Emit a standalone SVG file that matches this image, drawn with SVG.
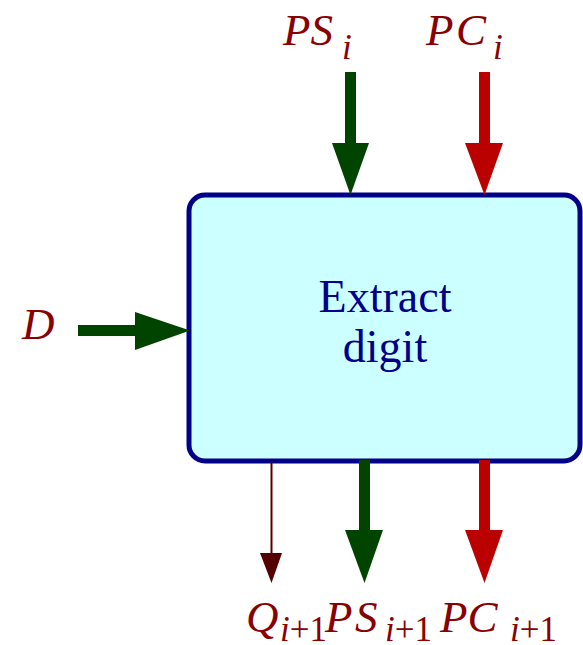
<svg xmlns="http://www.w3.org/2000/svg" width="583" height="645" viewBox="0 0 583 645">
<style>
.lbl{font-family:"Liberation Serif","Times New Roman",serif;font-style:italic;fill:#880000;font-size:45px}
.sub{font-family:"Liberation Serif","Times New Roman",serif;font-style:italic;fill:#880000;font-size:35px}
.up{font-style:normal}
.box{fill:#CCFFFF;stroke:#000088;stroke-width:5}
.title{font-family:"Liberation Serif","Times New Roman",serif;fill:#000088;font-size:46px;text-anchor:middle}
.g{fill:#004400}
.r{fill:#BB0000}
.q{fill:#550000}
</style>
<g id="extract">
<rect class="box" x="189" y="195" width="391" height="266" rx="16" ry="16"/>
<text class="title" x="385" y="312">Extract</text>
<text class="title" x="385" y="362">digit</text>
</g>
<g id="connectors">
<rect class="g" x="345" y="72" width="11" height="74"/>
<polygon class="g" points="332,143 369,143 350.5,195"/>
<rect class="r" x="479" y="72" width="11" height="74"/>
<polygon class="r" points="465,143 503,143 484.5,195"/>
<rect class="g" x="78" y="325" width="60" height="11"/>
<polygon class="g" points="135,312 135,350 190,330.5"/>
<rect class="q" x="270.5" y="462" width="2" height="93"/>
<polygon class="q" points="260,553 282,553 271.5,583"/>
<rect class="g" x="359" y="460" width="11" height="72"/>
<polygon class="g" points="345,530 383,530 364.5,583"/>
<rect class="r" x="479" y="460" width="11" height="72"/>
<polygon class="r" points="465,530 503,530 484.5,583"/>
</g>
<g id="label-PSi"><text class="lbl" x="283" y="45">PS</text><text class="sub" x="342" y="59">i</text></g>
<g id="label-PCi"><text class="lbl" x="426" y="45">P</text><text class="lbl" x="456" y="45">C</text><text class="sub" x="493" y="59">i</text></g>
<g id="label-D"><text class="lbl" x="22" y="339">D</text></g>
<g id="label-Q"><text class="lbl" x="246" y="632">Q</text><text class="sub" x="280" y="641">i<tspan class="up">+1</tspan></text></g>
<g id="label-PSi1"><text class="lbl" x="325" y="632">P</text><text class="lbl" x="355" y="632">S</text><text class="sub" x="385" y="641">i<tspan class="up">+1</tspan></text></g>
<g id="label-PCi1"><text class="lbl" x="440" y="632">PC</text><text class="sub" x="510" y="641">i<tspan class="up">+1</tspan></text></g>
</svg>
